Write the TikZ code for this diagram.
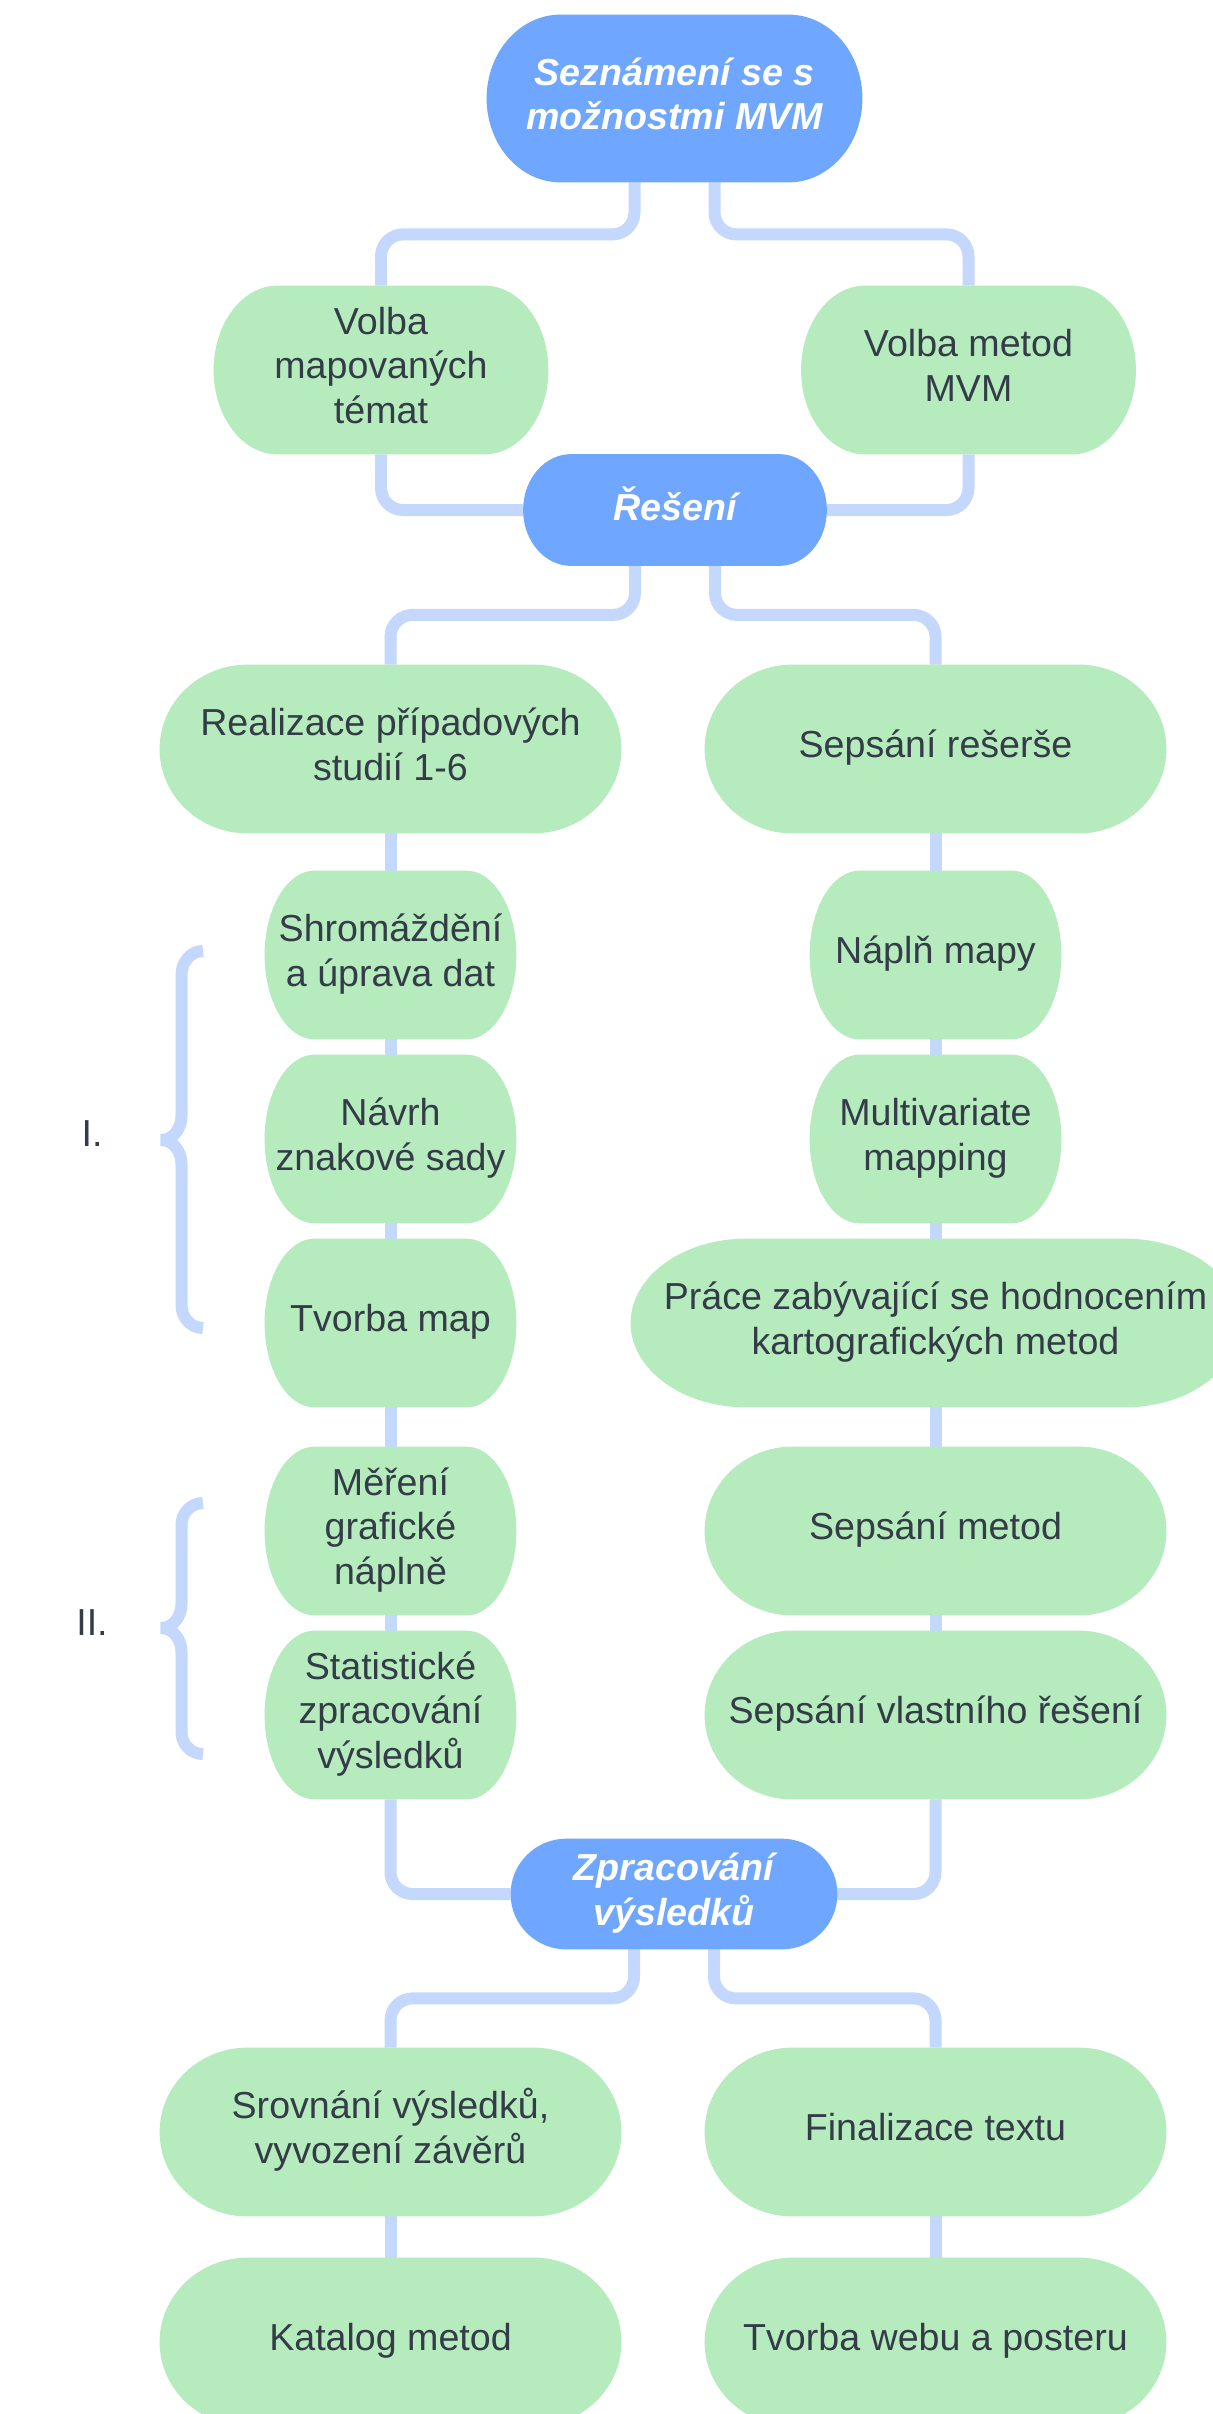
\documentclass[tikz,border=0pt]{standalone}
\usepackage{fontspec}
\setmainfont{Liberation Sans}
\usetikzlibrary{calc}
\definecolor{bluenode}{HTML}{6FA6FF}
\definecolor{greennode}{HTML}{B6EBBE}
\definecolor{linkc}{HTML}{C4D8FE}
\definecolor{txt}{HTML}{343C47}
\pgfdeclarelayer{bg}
\pgfsetlayers{bg,main}
\newcommand\pillfill[3]{%
  \begin{pgfonlayer}{bg}
  \fill[#2] let \p1=(#1.south west), \p2=(#1.north east) in
    (\x1+#3,\y2) -- (\x2-#3,\y2)
    arc[start angle=90,end angle=-90,x radius=#3,y radius={(\y2-\y1)/2}]
    -- (\x1+#3,\y1)
    arc[start angle=270,end angle=90,x radius=#3,y radius={(\y2-\y1)/2}]
    -- cycle;
  \end{pgfonlayer}}
\newcommand\tl[1]{\setlength{\tabcolsep}{0pt}\begin{tabular}{c}#1\end{tabular}}
\tikzset{
  base/.style={rectangle, inner sep=0pt, align=center, text=txt,
    font=\fontsize{18.8}{22.35}\selectfont},
  gnode/.style={base, minimum height=84pt},
  bnode/.style={base, text=white, font=\fontsize{18.8}{22.35}\selectfont\bfseries\itshape},
  conn/.style={line width=6pt, draw=linkc, rounded corners=11pt},
  bracepath/.style={line width=6pt, draw=linkc, line join=bevel},
}
\begin{document}
\begin{tikzpicture}[x=0.5pt,y=0.5pt]
\useasboundingbox (0,0) rectangle (1212,-2414);
\begin{pgfonlayer}{bg}
\fill[white] (0,0) rectangle (1212,-2414);
\end{pgfonlayer}
% nodes
\node[bnode, minimum width=187.5pt, minimum height=83.5pt] (top) at (674.5,-98.5) {\tl{Seznámení se s\\možnostmi MVM}};
\node[gnode, minimum width=167pt] (volba1) at (381,-370) {\tl{Volba\\mapovaných\\témat}};
\node[gnode, minimum width=167pt] (volba2) at (968.5,-370) {\tl{Volba metod\\MVM}};
\node[bnode, minimum width=151.5pt, minimum height=55.5pt] (reseni) at (675,-510) {\tl{Řešení}};
\node[gnode, minimum width=230.5pt] (real) at (390.5,-749) {\tl{Realizace případových\\studií 1-6}};
\node[gnode, minimum width=230.5pt] (rese) at (935.5,-749) {\tl{Sepsání rešerše}};
\node[gnode, minimum width=125.5pt] (shrom) at (390.5,-955) {\tl{Shromáždění\\a úprava dat}};
\node[gnode, minimum width=125.5pt] (napln) at (935.5,-955) {\tl{Náplň mapy}};
\node[gnode, minimum width=125.5pt] (navrh) at (390.5,-1139) {\tl{Návrh\\znakové sady}};
\node[gnode, minimum width=125.5pt] (multi) at (935.5,-1139) {\tl{Multivariate\\mapping}};
\node[gnode, minimum width=125.5pt] (tvorba) at (390.5,-1323) {\tl{Tvorba map}};
\node[gnode, minimum width=304.5pt] (prace) at (935.5,-1323) {\tl{Práce zabývající se hodnocením\\kartografických metod}};
\node[gnode, minimum width=125.5pt] (mereni) at (390.5,-1531) {\tl{Měření\\grafické\\náplně}};
\node[gnode, minimum width=230.5pt] (sepmet) at (935.5,-1531) {\tl{Sepsání metod}};
\node[gnode, minimum width=125.5pt] (stat) at (390.5,-1715) {\tl{Statistické\\zpracování\\výsledků}};
\node[gnode, minimum width=230.5pt] (seplast) at (935.5,-1715) {\tl{Sepsání vlastního řešení}};
\node[bnode, minimum width=163pt, minimum height=55pt] (zprac) at (674,-1894) {\tl{Zpracování\\výsledků}};
\node[gnode, minimum width=230.5pt] (srov) at (390.5,-2132) {\tl{Srovnání výsledků,\\vyvození závěrů}};
\node[gnode, minimum width=230.5pt] (final) at (935.5,-2132) {\tl{Finalizace textu}};
\node[gnode, minimum width=230.5pt] (katalog) at (390.5,-2342) {\tl{Katalog metod}};
\node[gnode, minimum width=230.5pt] (web) at (935.5,-2342) {\tl{Tvorba webu a posteru}};
\node[base] (l1) at (92,-1134) {I.};
\node[base] (l2) at (92,-1623) {II.};
% connectors
\begin{pgfonlayer}{bg}
\draw[conn] ([xshift=-20pt]top.south) -- ++(0,-26pt) -| (volba1.north);
\draw[conn] ([xshift=20pt]top.south) -- ++(0,-26pt) -| (volba2.north);
\draw[conn] (volba1.south) |- (reseni.west);
\draw[conn] (volba2.south) |- (reseni.east);
\draw[conn] ([xshift=-20pt]reseni.south) -- ++(0,-24.5pt) -| (real.north);
\draw[conn] ([xshift=20pt]reseni.south) -- ++(0,-24.5pt) -| (rese.north);
\draw[conn] (real.south) -- (shrom.north);
\draw[conn] (shrom.south) -- (navrh.north);
\draw[conn] (navrh.south) -- (tvorba.north);
\draw[conn] (tvorba.south) -- (mereni.north);
\draw[conn] (mereni.south) -- (stat.north);
\draw[conn] (rese.south) -- (napln.north);
\draw[conn] (napln.south) -- (multi.north);
\draw[conn] (multi.south) -- (prace.north);
\draw[conn] (prace.south) -- (sepmet.north);
\draw[conn] (sepmet.south) -- (seplast.north);
\draw[conn] (stat.south) |- (zprac.west);
\draw[conn] (seplast.south) |- (zprac.east);
\draw[conn] ([xshift=-20pt]zprac.south) -- ++(0,-24.5pt) -| (srov.north);
\draw[conn] ([xshift=20pt]zprac.south) -- ++(0,-24.5pt) -| (final.north);
\draw[conn] (srov.south) -- (katalog.north);
\draw[conn] (final.south) -- (web.north);
% braces
\draw[bracepath] (203,-951) to[out=180,in=90] (181.5,-975) -- (181.5,-1116)
  to[out=-90,in=0] (161,-1140) to[out=0,in=90] (181.5,-1164) -- (181.5,-1305) to[out=-90,in=180] (203,-1328);
\draw[bracepath] (203,-1503) to[out=180,in=90] (181.5,-1525) -- (181.5,-1604)
  to[out=-90,in=0] (161,-1628) to[out=0,in=90] (181.5,-1652) -- (181.5,-1732) to[out=-90,in=180] (203,-1754);
\end{pgfonlayer}
% shapes
\pillfill{top}{bluenode}{37pt}
\pillfill{volba1}{greennode}{32pt}
\pillfill{volba2}{greennode}{32pt}
\pillfill{reseni}{bluenode}{24pt}
\pillfill{real}{greennode}{44pt}
\pillfill{rese}{greennode}{44pt}
\pillfill{shrom}{greennode}{25pt}
\pillfill{napln}{greennode}{25pt}
\pillfill{navrh}{greennode}{25pt}
\pillfill{multi}{greennode}{25pt}
\pillfill{tvorba}{greennode}{25pt}
\pillfill{prace}{greennode}{58pt}
\pillfill{mereni}{greennode}{25pt}
\pillfill{sepmet}{greennode}{44pt}
\pillfill{stat}{greennode}{25pt}
\pillfill{seplast}{greennode}{44pt}
\pillfill{zprac}{bluenode}{28pt}
\pillfill{srov}{greennode}{44pt}
\pillfill{final}{greennode}{44pt}
\pillfill{katalog}{greennode}{44pt}
\pillfill{web}{greennode}{44pt}
\end{tikzpicture}
\end{document}
